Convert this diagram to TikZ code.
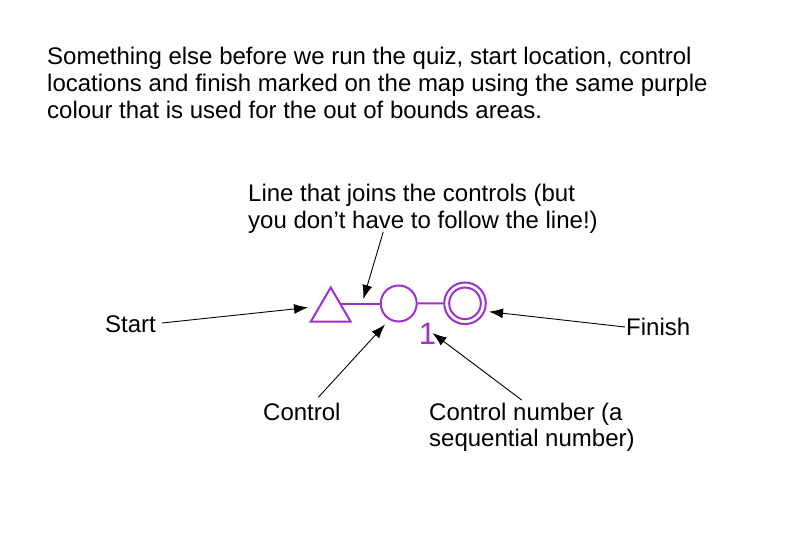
\documentclass[tikz,border=0pt]{standalone}
\usepackage{fontspec}
\setmainfont{Liberation Sans}
\usetikzlibrary{arrows.meta}
\definecolor{oobpurple}{RGB}{158,48,204}
\tikzset{
  lbl/.style={anchor=base west, inner sep=0pt, font=\fontsize{24}{27}\selectfont, align=left},
  ptr/.style={draw=black, line width=0.9pt, -{Latex[length=14pt,width=10pt]}},
  sym/.style={draw=oobpurple, line width=2pt},
}
\begin{document}
\begin{tikzpicture}[x=1pt,y=-1pt]
\useasboundingbox (0,0) rectangle (794,559);
\fill[white] (0,0) rectangle (794,559);
% heading
\node[lbl] (head1) at (47,65) {Something else before we run the quiz, start location, control};
\node[lbl] (head2) at (47,91.7) {locations and finish marked on the map using the same purple};
\node[lbl] (head3) at (47,118.3) {colour that is used for the out of bounds areas.};
% labels
\node[lbl] (joinA) at (248,201.7) {Line that joins the controls (but};
\node[lbl] (joinB) at (248,228.3) {you don’t have to follow the line!)};
\node[lbl] (start) at (105,332.7) {Start};
\node[lbl] (finish) at (626,335.5) {Finish};
\node[lbl] (control) at (263,420) {Control};
\node[lbl] (numA) at (429,420) {Control number (a};
\node[lbl] (numB) at (429,446) {sequential number)};
% symbols
\coordinate (triL) at (310.7,321.7);
\coordinate (triR) at (350.7,321.7);
\coordinate (triT) at (330.7,287.5);
\draw[sym, line join=miter] (triL) -- (triR) -- (triT) -- cycle;
\coordinate (triE) at (340.6,303.5);
\node[sym, circle, minimum size=36pt, inner sep=0pt] (ctrl) at (398.7,303.5) {};
\node[sym, circle, minimum size=41.6pt, inner sep=0pt] (fin) at (465,303.3) {};
\node[sym, circle, minimum size=31.6pt, inner sep=0pt] (finin) at (465,303.3) {};
\draw[sym] (triE) -- (ctrl.west);
\draw[sym] (ctrl.east) -- (fin.west);
\node[text=oobpurple, inner sep=0pt, font=\fontsize{31}{31}\selectfont] (num) at (427.5,334) {1};
% pointers
\coordinate (startS) at (162,323);
\coordinate (startT) at (308,307.5);
\draw[ptr] (startS) -- (startT);
\coordinate (joinS) at (383.3,231.7);
\coordinate (joinT) at (363.3,299);
\draw[ptr] (joinS) -- (joinT);
\coordinate (ctrlS) at (318.3,397.3);
\coordinate (ctrlT) at (385,324.5);
\draw[ptr] (ctrlS) -- (ctrlT);
\coordinate (numS) at (521.7,400);
\coordinate (numT) at (432.5,333);
\draw[ptr] (numS) -- (numT);
\coordinate (finS) at (625,327);
\coordinate (finT) at (489,311.7);
\draw[ptr] (finS) -- (finT);
\end{tikzpicture}
\end{document}
